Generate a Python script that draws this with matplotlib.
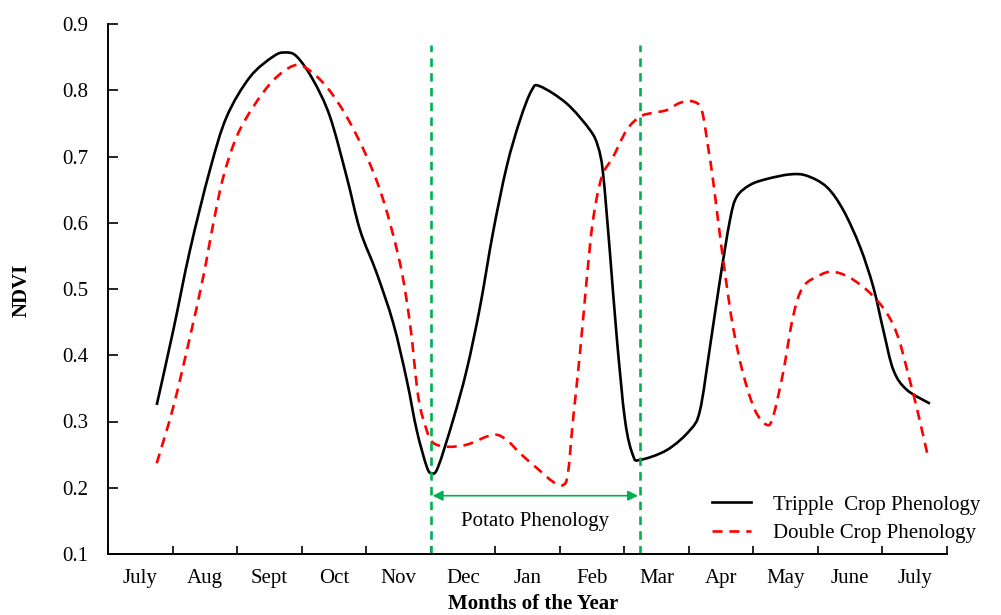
import matplotlib
matplotlib.use("Agg")
import matplotlib.pyplot as plt
from matplotlib.ticker import FixedLocator, NullFormatter
from matplotlib.path import Path
from matplotlib.patches import PathPatch
from matplotlib.lines import Line2D

plt.rcParams['font.family'] = ['Liberation Serif', 'DejaVu Serif']

months = ["July", "Aug", "Sept", "Oct", "Nov", "Dec", "Jan", "Feb", "Mar",
          "Apr", "May", "June", "July"]

# x in months from the start of the axis (category i spans i..i+1)
triple_x = [0.755, 1.012, 1.271, 1.580, 1.839, 2.200, 2.561, 2.743, 2.924, 3.181,
            3.440, 3.699, 3.905, 4.163, 4.421, 4.628, 4.783, 4.938, 5.016, 5.113,
            5.346, 5.558, 5.764, 5.965, 6.178, 6.384, 6.565, 6.693, 7.107, 7.468,
            7.592, 7.670, 7.778, 7.882, 8.011, 8.134, 8.243, 8.661, 9.018, 9.173,
            9.328, 9.483, 9.637, 9.741, 9.947, 10.206, 10.567, 10.826, 11.136, 11.393,
            11.651, 11.858, 12.013, 12.168, 12.375, 12.736]
triple_y = [0.325, 0.438, 0.559, 0.680, 0.760, 0.820, 0.851, 0.857, 0.851, 0.815,
            0.760, 0.669, 0.589, 0.524, 0.448, 0.363, 0.287, 0.232, 0.222, 0.231,
            0.302, 0.378, 0.473, 0.585, 0.685, 0.755, 0.800, 0.806, 0.780, 0.740,
            0.715, 0.675, 0.554, 0.428, 0.302, 0.249, 0.242, 0.257, 0.287, 0.317,
            0.413, 0.514, 0.604, 0.639, 0.657, 0.666, 0.673, 0.671, 0.654, 0.619,
            0.564, 0.503, 0.438, 0.378, 0.348, 0.327]

double_x = [0.755, 1.012, 1.271, 1.477, 1.632, 1.786, 1.994, 2.251, 2.561, 2.871,
            3.079, 3.389, 3.699, 4.008, 4.266, 4.524, 4.679, 4.808, 4.938, 5.036,
            5.248, 5.558, 5.965, 6.178, 6.384, 6.642, 6.895, 7.050, 7.127, 7.205,
            7.313, 7.417, 7.515, 7.650, 7.825, 8.037, 8.243, 8.444, 8.657, 8.863,
            9.064, 9.199, 9.297, 9.374, 9.452, 9.560, 9.684, 9.839, 10.025, 10.206,
            10.304, 10.459, 10.614, 10.769, 11.032, 11.233, 11.497, 11.807, 12.065, 12.240,
            12.395, 12.550, 12.705]
double_y = [0.237, 0.322, 0.428, 0.519, 0.599, 0.669, 0.730, 0.775, 0.815, 0.837,
            0.833, 0.805, 0.760, 0.700, 0.634, 0.539, 0.448, 0.337, 0.287, 0.268,
            0.262, 0.265, 0.280, 0.272, 0.252, 0.230, 0.209, 0.204, 0.222, 0.302,
            0.403, 0.514, 0.604, 0.669, 0.699, 0.740, 0.760, 0.766, 0.770, 0.781,
            0.783, 0.770, 0.715, 0.665, 0.604, 0.524, 0.443, 0.373, 0.317, 0.295,
            0.307, 0.373, 0.458, 0.503, 0.521, 0.526, 0.517, 0.494, 0.464, 0.428,
            0.373, 0.313, 0.247]

potato_start = 5.0
potato_end = 8.243
potato_top = 0.868
arrow_level = 0.188
yticks = [0.1, 0.2, 0.3, 0.4, 0.5, 0.6, 0.7, 0.8, 0.9]

green = "#00B050"
red = "#FF0000"
FS = 15


def smooth_path(xs, ys):
    """Smoothed (Excel-like) rendering of a series through its points."""
    pts = list(zip(xs, ys))
    n = len(pts)
    verts = [pts[0]]
    codes = [Path.MOVETO]
    for i in range(n - 1):
        p0 = pts[i - 1] if i > 0 else pts[i]
        p1 = pts[i]
        p2 = pts[i + 1]
        p3 = pts[i + 2] if i + 2 < n else pts[i + 1]
        c1 = (p1[0] + (p2[0] - p0[0]) / 6, p1[1] + (p2[1] - p0[1]) / 6)
        c2 = (p2[0] - (p3[0] - p1[0]) / 6, p2[1] - (p3[1] - p1[1]) / 6)
        verts += [c1, c2, p2]
        codes += [Path.CURVE4] * 3
    return Path(verts, codes)


fig = plt.figure(figsize=(10.01, 6.15), dpi=100)
ax = fig.add_axes([108/1001, 61/615, 839/1001, 530/615])

ax.add_patch(PathPatch(smooth_path(triple_x, triple_y), fill=False, edgecolor="black",
                       lw=1.9, joinstyle="round", capstyle="butt"))
ax.add_patch(PathPatch(smooth_path(double_x, double_y), fill=False, edgecolor=red,
                       lw=1.9, linestyle=(0, (3.8, 2.6)), capstyle="butt"))

for xv in (potato_start, potato_end):
    ax.plot([xv, xv], [0.1, potato_top], color=green, lw=1.9, dashes=(3.2, 2.4),
            clip_on=False)

ax.annotate("", xy=(potato_end - 0.03, arrow_level), xytext=(potato_start + 0.03, arrow_level),
            arrowprops=dict(arrowstyle="<|-|>", color=green, lw=1.2,
                            mutation_scale=15, shrinkA=0, shrinkB=0))
ax.text((potato_start + potato_end) / 2, 0.149, "Potato Phenology",
        ha="center", va="center", fontsize=FS)

ax.set_xlim(0, len(months))
ax.set_ylim(0.1, 0.9)
ax.xaxis.set_major_locator(FixedLocator(list(range(len(months) + 1))))
ax.xaxis.set_major_formatter(NullFormatter())
ax.xaxis.set_minor_locator(FixedLocator([i + 0.5 for i in range(len(months))]))
ax.set_xticklabels(months, minor=True)
ax.tick_params(axis="x", which="major", direction="in", length=6, width=1.2)
ax.tick_params(axis="x", which="minor", length=0, pad=11, labelsize=FS)
ax.set_yticks(yticks)
ax.set_yticklabels([f"{v:.1f}" for v in yticks])
ax.tick_params(axis="y", direction="in", length=7, width=1.2, pad=14, labelsize=FS)

for s in ("top", "right"):
    ax.spines[s].set_visible(False)
for s in ("left", "bottom"):
    ax.spines[s].set_linewidth(1.4)

fig.text(533/1001, 1 - 604/615, "Months of the Year", ha="center", va="center",
         fontsize=FS, fontweight="bold")
fig.text(22/1001, 1 - 290/615, "NDVI", ha="center", va="center", rotation=90,
         fontsize=FS, fontweight="bold")

h1 = Line2D([], [], color="black", lw=1.9)
h2 = Line2D([], [], color=red, lw=1.9, dashes=(3.8, 2.6))
ax.legend(handles=[h1, h2], labels=["Tripple  Crop Phenology", "Double Crop Phenology"],
          loc="center left", bbox_to_anchor=(712/1001, 1 - 519/615),
          bbox_transform=fig.transFigure, frameon=False, fontsize=FS,
          handlelength=1.85, handletextpad=1.1, labelspacing=0.42, borderpad=0,
          borderaxespad=0)

fig.savefig("out.png", dpi=100)
